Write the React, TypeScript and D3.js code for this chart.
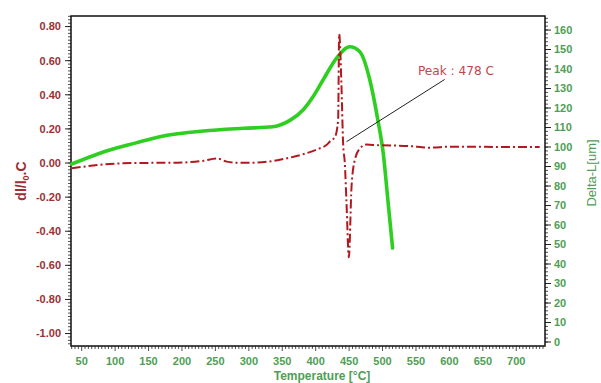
import React from "react";
import * as d3 from "d3";

// Temperature (°C) for the dl/l0.C curve (left axis)
const dilTemp = [35, 92, 132, 192, 232, 252, 267, 282, 307, 356, 386, 406, 416, 421, 429, 433.6, 435.1, 438.6, 441, 443.6, 446.1, 449.6, 453.6, 458.5, 466, 476, 491, 541, 571, 601, 640, 690, 735];
const dilValue = [-0.031, -0.006, 0.0, 0.002, 0.013, 0.027, 0.008, 0.002, 0.002, 0.027, 0.057, 0.086, 0.105, 0.125, 0.154, 0.252, 0.756, 0.448, 0.115, -0.002, -0.234, -0.553, -0.139, 0.018, 0.085, 0.108, 0.105, 0.099, 0.09, 0.096, 0.095, 0.094, 0.094];

// Temperature (°C) for the Delta-L curve (right axis)
const lenTemp = [35, 92, 130, 167, 232, 292, 336, 362, 381, 396, 411, 431, 451, 466, 481, 493, 501, 508, 515];
const lenValue = [91.3, 98.5, 102, 105.3, 108.2, 109.6, 110.4, 113.8, 119, 125.8, 134.4, 145.5, 151.4, 148.9, 134.4, 113.8, 96.9, 72.8, 48.2];

const xTicks = [50, 100, 150, 200, 250, 300, 350, 400, 450, 500, 550, 600, 650, 700];
const leftTicks = [0.8, 0.6, 0.4, 0.2, 0, -0.2, -0.4, -0.6, -0.8, -1.0];
const rightTicks = [0, 10, 20, 30, 40, 50, 60, 70, 80, 90, 100, 110, 120, 130, 140, 150, 160];

const peakLabel = "Peak : 478  C";
const peakFrom = [446.1, 0.125];
const peakTo = [593, 0.49];

export default function App() {
  const L = 71, R = 545, T = 16, B = 346;
  const x = d3.scaleLinear().domain([34, 743]).range([L, R]);
  const yL = d3.scaleLinear().domain([-1.073, 0.862]).range([B, T]);
  const yR = d3.scaleLinear().domain([-2.05, 167.2]).range([B, T]);

  const dilLine = d3.line<number>()
    .x((_, i) => x(dilTemp[i]))
    .y((v) => yL(v))
    .curve(d3.curveMonotoneX);
  const lenLine = d3.line<number>()
    .x((_, i) => x(lenTemp[i]))
    .y((v) => yR(v))
    .curve(d3.curveMonotoneX);

  const red = "#b0191e";
  const green = "#2fcf22";
  const labRed = "#9c2f33";
  const labGreen = "#4f9e55";
  const font = "'Liberation Sans', Arial, sans-serif";

  const xMinor = d3.range(35, 745, 5);
  const lMinor = d3.range(-1.06, 0.861, 0.02);
  const rMinor = d3.range(0, 167, 2);

  return (
    <svg width={601} height={383} style={{ position: "absolute", left: 0, top: 0, background: "#fff" }} fontFamily={font}>
      <rect x={0} y={0} width={601} height={383} fill="#fff" />
      {/* minor ticks */}
      {xMinor.map((t) => (
        <line key={"xm" + t} x1={x(t)} x2={x(t)} y1={B} y2={B + (t % 50 === 0 ? 5 : 3)} stroke="#222" strokeWidth={0.8} />
      ))}
      {lMinor.map((v, i) => (
        <line key={"lm" + i} x1={L} x2={L - 3} y1={yL(v)} y2={yL(v)} stroke="#222" strokeWidth={0.8} />
      ))}
      {rMinor.map((v) => (
        <line key={"rm" + v} x1={R} x2={R + 3} y1={yR(v)} y2={yR(v)} stroke="#222" strokeWidth={0.8} />
      ))}
      {leftTicks.map((v) => (
        <g key={"lt" + v}>
          <line x1={L} x2={L - 6} y1={yL(v)} y2={yL(v)} stroke="#222" strokeWidth={1} />
          <text x={L - 10} y={yL(v)} dy="0.35em" textAnchor="end" fontSize={11} fontWeight="bold" fill={labRed}>
            {v.toFixed(2)}
          </text>
        </g>
      ))}
      {rightTicks.map((v) => (
        <g key={"rt" + v}>
          <line x1={R} x2={R + 6} y1={yR(v)} y2={yR(v)} stroke="#222" strokeWidth={1} />
          <text x={R + 9} y={yR(v)} dy="0.35em" textAnchor="start" fontSize={11} fontWeight="bold" fill={labGreen}>
            {v}
          </text>
        </g>
      ))}
      {xTicks.map((t) => (
        <text key={"xt" + t} x={x(t)} y={361} dy="0.35em" textAnchor="middle" fontSize={11} fontWeight="bold" fill={labGreen}>
          {t}
        </text>
      ))}
      <rect x={L} y={T} width={R - L} height={B - T} fill="none" stroke="#111" strokeWidth={1.5} />

      <path d={lenLine(lenValue) || ""} fill="none" stroke={green} strokeWidth={3.6} strokeLinecap="round" strokeLinejoin="round" />
      <path d={dilLine(dilValue) || ""} fill="none" stroke={red} strokeWidth={2} strokeDasharray="9 3 2 3" />

      <line x1={x(peakFrom[0])} y1={yL(peakFrom[1])} x2={x(peakTo[0])} y2={yL(peakTo[1])} stroke="#222" strokeWidth={1} />
      <text x={418} y={75} fontSize={12.5} fill="#c0474f" fontFamily="'DejaVu Sans', sans-serif" textLength={76} lengthAdjust="spacingAndGlyphs">
        {peakLabel}
      </text>

      <text transform="translate(26,181) rotate(-90)" textAnchor="middle" fontSize={14} fill={labRed} fontWeight="bold">
        dl/l<tspan fontSize={9} dy={3}>0</tspan><tspan dy={-3}>.C</tspan>
      </text>
      <text transform="translate(596,173) rotate(-90)" textAnchor="middle" fontSize={13} fill={labGreen}>
        Delta-L[um]
      </text>
      <text x={322} y={376} dy="0.35em" textAnchor="middle" fontSize={12} fontWeight="bold" fill={labGreen}>
        Temperature [°C]
      </text>
    </svg>
  );
}
